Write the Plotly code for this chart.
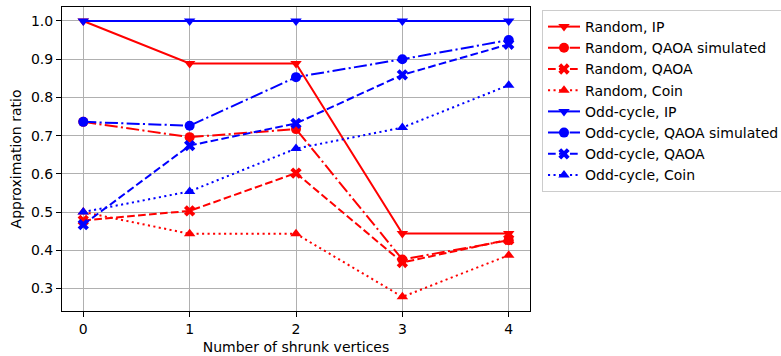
import plotly.graph_objects as go

x_vals = [0, 1, 2, 3, 4]
random_ip = [1.0, 0.889, 0.889, 0.444, 0.444]
random_qaoa_sim = [0.736, 0.696, 0.717, 0.376, 0.426]
random_qaoa = [0.478, 0.503, 0.602, 0.368, 0.428]
random_coin = [0.5, 0.443, 0.443, 0.278, 0.387]
odd_ip = [1.0, 1.0, 1.0, 1.0, 1.0]
odd_qaoa_sim = [0.736, 0.726, 0.853, 0.900, 0.950]
odd_qaoa = [0.467, 0.674, 0.732, 0.859, 0.939]
odd_coin = [0.5, 0.554, 0.666, 0.721, 0.832]

names = ["Random, IP", "Random, QAOA simulated", "Random, QAOA", "Random, Coin",
         "Odd-cycle, IP", "Odd-cycle, QAOA simulated", "Odd-cycle, QAOA", "Odd-cycle, Coin"]
series = [random_ip, random_qaoa_sim, random_qaoa, random_coin,
          odd_ip, odd_qaoa_sim, odd_qaoa, odd_coin]
colors = ["#ff0000"] * 4 + ["#0000ff"] * 4
dashes = ["solid", "13px,3.3px,2.1px,3.3px", "7.7px,3.3px", "2.1px,3.4px"] * 2
symbols = ["triangle-down", "circle", "x", "triangle-up"] * 2
sizes = [10, 10, 10, 10] * 2

FONT = "DejaVu Sans"
FS = 14
fig = go.Figure()
for n, s, c, d, sym, sz in zip(names, series, colors, dashes, symbols, sizes):
    fig.add_trace(go.Scatter(
        x=x_vals, y=s, name=n, mode="lines+markers",
        line=dict(color=c, width=2, dash=d),
        marker=dict(color=c, symbol=sym, size=sz, line=dict(width=0)),
    ))

W, H = 781, 356
L, R, T, B = 62, 530, 7, 311
fig.update_layout(
    width=W, height=H,
    margin=dict(l=L, r=W - R, t=T, b=H - B, autoexpand=False),
    paper_bgcolor="white", plot_bgcolor="white",
    font=dict(family=FONT, size=FS, color="black"),
    showlegend=True,
    legend=dict(
        x=(542 - L) / (R - L), y=1 - (10 - T) / (B - T),
        xanchor="left", yanchor="top",
        bordercolor="#cccccc", borderwidth=1, bgcolor="white",
        font=dict(family=FONT, size=FS),
        itemwidth=32, tracegroupgap=0,
    ),
    xaxis=dict(
        range=[-0.2, 4.2], tickvals=[0, 1, 2, 3, 4], ticktext=["0", "1", "2", "3", "4"],
        showgrid=True, gridcolor="#b0b0b0", gridwidth=1,
        showline=True, linecolor="black", linewidth=1, mirror=True,
        ticks="outside", ticklen=5, tickcolor="black", zeroline=False,
        title=dict(text="Number of shrunk vertices", standoff=6, font=dict(size=FS)),
    ),
    yaxis=dict(
        range=[0.241, 1.0366], tickvals=[0.3, 0.4, 0.5, 0.6, 0.7, 0.8, 0.9, 1.0],
        tickformat=".1f",
        showgrid=True, gridcolor="#b0b0b0", gridwidth=1,
        showline=True, linecolor="black", linewidth=1, mirror=True,
        ticks="outside", ticklen=5, tickcolor="black", zeroline=False,
        title=dict(text="Approximation ratio", standoff=6, font=dict(size=FS)),
    ),
)
fig.write_html("out.html")
